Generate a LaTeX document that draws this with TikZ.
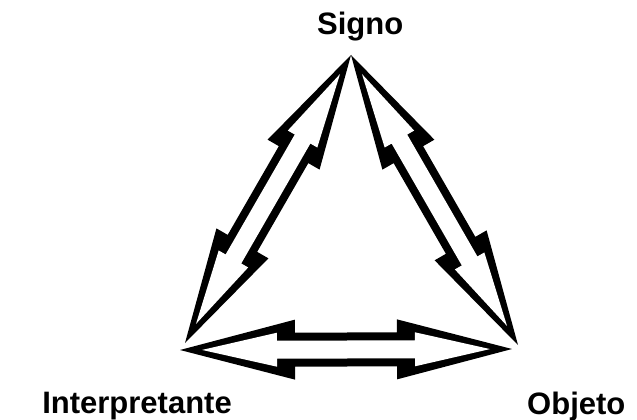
\documentclass[tikz,border=0pt]{standalone}
\usepackage{fontspec}
\setmainfont{Liberation Sans}
\usetikzlibrary{calc}
\tikzset{
  lbl/.style={font=\fontsize{31}{36}\selectfont\bfseries,inner sep=0pt},
  outline/.style={fill=black},
  hollow/.style={fill=white},
}
% hollow double arrow from tip #1 to tip #2
\newcommand{\hollowarrow}[2]{%
  \fill[outline] let \p1=($(#2)-(#1)$), \n1={atan2(\y1,\x1)} in
    (#1) -- ($(#1)+(\n1:115pt)+(\n1+90:30pt)$) -- ($(#1)+(\n1:115pt)+(\n1+90:17pt)$)
    -- ($(#2)+(\n1:-115pt)+(\n1+90:17pt)$) -- ($(#2)+(\n1:-115pt)+(\n1+90:30pt)$)
    -- (#2) -- ($(#2)+(\n1:-115pt)+(\n1-90:30pt)$) -- ($(#2)+(\n1:-115pt)+(\n1-90:17pt)$)
    -- ($(#1)+(\n1:115pt)+(\n1-90:17pt)$) -- ($(#1)+(\n1:115pt)+(\n1-90:30pt)$) -- cycle;
  \fill[hollow] let \p1=($(#2)-(#1)$), \n1={atan2(\y1,\x1)} in
    ($(#1)+(\n1:22pt)$) -- ($(#1)+(\n1:97pt)+(\n1+90:17pt)$) -- ($(#1)+(\n1:97pt)+(\n1+90:9pt)$)
    -- ($(#2)+(\n1:-97pt)+(\n1+90:9pt)$) -- ($(#2)+(\n1:-97pt)+(\n1+90:17pt)$)
    -- ($(#2)+(\n1:-22pt)$) -- ($(#2)+(\n1:-97pt)+(\n1-90:17pt)$) -- ($(#2)+(\n1:-97pt)+(\n1-90:9pt)$)
    -- ($(#1)+(\n1:97pt)+(\n1-90:9pt)$) -- ($(#1)+(\n1:97pt)+(\n1-90:17pt)$) -- cycle;
}

\begin{document}
\begin{tikzpicture}[x=1pt,y=-1pt]
  \useasboundingbox[fill=white] (0,0) rectangle (637,420);
  % triangle corners (one tip per arrow end)
  \coordinate (s) at (351,55);
  \coordinate (i1) at (185,343);
  \coordinate (i2) at (180,350);
  \coordinate (o1) at (518,345);
  \coordinate (o2) at (512,349);
  \foreach \a/\b in {s/i1,s/o1,i2/o2}
    \hollowarrow{\a}{\b};
  \node[lbl,anchor=base west] (signo) at (317,35) {Signo};
  \node[lbl,anchor=base east] (interp) at (232,413) {Interpretante};
  \node[lbl,anchor=base west] (objeto) at (527,414) {Objeto};
\end{tikzpicture}
\end{document}
